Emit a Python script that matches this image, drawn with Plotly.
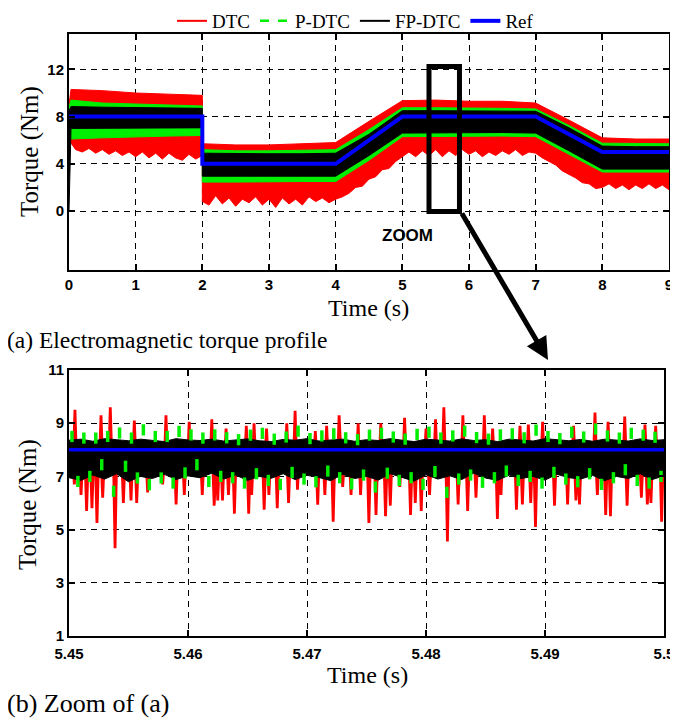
import plotly.graph_objects as go

# The page body has an 8px default margin, so the figure is sized to fill the
# remaining window and all pixel positions below are given in window pixels.
OFF = 8
W, H = 678 - OFF, 723 - OFF
RED, GREEN, BLACK, BLUE = "#ff0000", "#00ee00", "#000000", "#0000ff"


def px(x):
    return (x - OFF) / W


def py(y):
    return 1 - (y - OFF) / H


# ---------------- Panel (a): envelopes ----------------
t_knots = [0.0, 0.03, 0.5, 1.0, 1.5, 2.0, 2.0, 2.5, 3.0, 3.5, 4.0, 4.5, 5.0, 5.5, 6.0, 6.5, 7.0, 7.5, 8.0, 8.5, 9.0]
dtc_upper = [9.0, 10.3, 10.2, 10.0, 9.9, 9.8, 5.7, 5.6, 5.6, 5.7, 5.8, 7.6, 9.35, 9.4, 9.3, 9.3, 9.15, 7.7, 6.2, 6.1, 6.1]
pdtc_upper = [8.8, 9.4, 9.15, 9.05, 9.0, 8.9, 5.2, 5.1, 5.1, 5.15, 5.2, 6.9, 8.75, 8.75, 8.75, 8.7, 8.65, 7.25, 5.75, 5.7, 5.7]
fpdtc_upper = [8.5, 8.85, 8.8, 8.75, 8.75, 8.7, 4.9, 4.85, 4.85, 4.85, 4.9, 6.5, 8.5, 8.5, 8.5, 8.5, 8.45, 7.05, 5.5, 5.45, 5.45]
fpdtc_lower = [0.0, 7.0, 7.05, 7.05, 7.05, 7.05, 2.95, 2.95, 2.95, 2.95, 2.95, 4.7, 6.6, 6.6, 6.65, 6.65, 6.6, 5.1, 3.55, 3.55, 3.55]
pdtc_lower = [6.6, 6.1, 6.2, 6.3, 6.35, 6.4, 2.45, 2.45, 2.45, 2.5, 2.5, 4.3, 6.3, 6.3, 6.35, 6.35, 6.3, 4.8, 3.3, 3.3, 3.3]

dtc_lower_t = [round(i * 0.1, 1) for i in range(21)] + [round(2.0 + i * 0.1, 1) for i in range(71)]
dtc_lower = [6.0, 5.2, 5.0, 5.3, 4.9, 5.2, 4.8, 5.1, 4.7, 5.0, 4.6, 5.0, 4.5, 4.9, 4.4, 4.9, 4.5, 4.3, 4.8, 4.4, 4.7,
             0.8, 0.5, 1.3, 0.6, 1.1, 0.4, 1.0, 0.7, 1.2, 0.5, 1.0, 0.3, 1.1, 0.6, 1.0, 0.5, 1.2, 0.8, 1.1, 0.7, 1.0,
             1.2, 1.5, 2.0, 2.1, 2.7, 2.9, 3.5, 3.6, 4.2, 4.6,
             5.0, 4.6, 5.1, 4.7, 5.2, 4.6, 5.1, 4.7, 5.2, 4.8, 5.1, 4.6, 5.0, 4.7, 5.1, 4.8, 5.2, 4.7, 5.0, 4.9,
             4.5, 4.2, 3.9, 3.4, 3.1, 2.8, 2.4, 2.3, 1.9, 2.0,
             2.3, 1.9, 2.2, 1.8, 2.2, 1.9, 2.3, 1.9, 2.2, 1.8]

ref_t = [0, 2, 2, 4, 5, 7, 8, 9]
ref_v = [8, 8, 4, 4, 8, 8, 5, 5]
xticks_a = [0, 1, 2, 3, 4, 5, 6, 7, 8, 9]
yticks_a = [0, 4, 8, 12]

# ---------------- Panel (b): zoom 5.45 - 5.50 s ----------------
zoom_t0 = 5.45
spike_ms = [0.45, 0.50, 1.01, 1.48, 1.93, 2.35, 2.69, 2.83, 3.47, 3.87, 4.57, 5.21, 5.49, 5.69, 6.61, 7.87, 8.15,
            9.00, 9.69, 10.10, 11.20, 12.00, 12.20, 12.50, 12.90, 13.20, 13.40, 13.90, 14.90, 15.10, 15.35, 15.55,
            16.40, 16.60, 16.80, 17.50, 18.30, 18.45, 19.00, 19.20, 20.70, 20.90, 21.50, 21.65, 22.20, 22.70,
            23.00, 23.70, 24.30, 24.50, 25.20, 25.80, 26.20, 26.60, 27.00, 27.80, 28.20, 28.70, 29.10, 29.60,
            30.00, 30.30, 30.80, 31.50, 31.80, 32.70, 33.10, 33.50, 34.20, 34.90, 35.60, 36.00, 36.30, 37.60,
            37.90, 38.10, 38.60, 38.80, 39.20, 39.80, 40.80, 41.90, 42.40, 42.60, 42.90, 44.20, 44.40, 45.10,
            45.30, 45.50, 46.70, 46.90, 48.10, 48.40, 48.60, 48.90, 49.30, 49.80]
spike_val = [6.7, 9.5, 6.3, 5.7, 5.8, 5.25, 9.3, 6.2, 9.6, 4.3, 6.0, 6.1, 9.1, 6.0, 6.4, 6.7, 9.3,
             5.95, 6.3, 9.05, 6.3, 9.15, 5.9, 6.1, 6.1, 8.8, 6.3, 5.6, 8.9, 5.6, 6.3, 9.0,
             5.75, 8.8, 6.3, 5.8, 9.0, 6.0, 9.47, 6.5, 8.7, 5.94, 6.3, 8.9, 5.3, 9.3,
             6.6, 6.3, 9.0, 6.3, 5.25, 5.55, 9.0, 5.5, 5.9, 6.6, 9.2, 5.55, 6.0, 5.7,
             8.8, 6.3, 9.15, 9.6, 4.55, 5.95, 9.3, 5.7, 6.2, 9.3, 8.8, 5.4, 6.3, 5.75,
             8.9, 5.95, 8.95, 6.0, 5.1, 9.05, 5.9, 5.95, 8.9, 6.1, 5.95, 9.4, 6.3, 5.55,
             9.05, 5.5, 9.25, 5.9, 6.2, 8.95, 5.95, 6.0, 8.9, 5.3]
dtc_base = 7.6

pdtc_hi = [8.50, 8.44, 8.44, 8.50, 8.63, 8.44, 8.75, 8.50, 8.50, 8.69, 8.56, 8.44, 8.56,
           8.45, 8.38, 8.55, 8.62, 8.40, 8.48, 8.70, 8.42, 8.52, 8.60, 8.45, 8.38,
           8.55, 8.62, 8.48, 8.40, 8.58, 8.66, 8.44, 8.52, 8.70, 8.46, 8.40, 8.56,
           8.60, 8.45, 8.74, 8.50, 8.42, 8.66, 8.48, 8.78, 8.52, 8.44, 8.62, 8.55, 8.47]
pdtc_lo = [6.81, 7.00, 7.44, 6.44, 7.38, 6.94, 6.69, 6.94, 6.75, 7.13, 7.44, 6.81, 7.00,
           6.95, 6.75, 7.10, 6.85, 6.70, 7.15, 6.90, 6.80, 7.20, 6.95, 6.72, 7.05,
           6.60, 7.12, 6.85, 6.95, 6.70, 7.18, 6.40, 6.90, 7.05, 6.78, 6.95, 7.20,
           6.85, 7.00, 6.75, 7.15, 6.90, 6.80, 7.10, 6.70, 6.95, 7.25, 6.85, 6.75, 7.00]

fp_ms = list(range(51))
fp_up_z = [8.36, 8.40, 8.32, 8.42, 8.38, 8.34, 8.40, 8.36, 8.31, 8.42, 8.37, 8.35, 8.40, 8.33, 8.38, 8.41, 8.34,
           8.31, 8.39, 8.36, 8.42, 8.33, 8.37, 8.40, 8.32, 8.38, 8.35, 8.42, 8.36, 8.31, 8.40, 8.37, 8.33, 8.41,
           8.35, 8.38, 8.31, 8.40, 8.36, 8.33, 8.42, 8.37, 8.34, 8.39, 8.32, 8.40, 8.36, 8.33, 8.41, 8.35, 8.38]
fp_lo_z = [6.95, 6.85, 7.05, 6.90, 7.10, 6.80, 7.00, 6.92, 7.08, 6.88, 7.02, 6.95, 7.12, 6.90, 7.05, 6.85, 7.00,
           6.93, 7.10, 6.88, 7.04, 6.96, 6.84, 7.08, 6.92, 7.00, 6.86, 7.10, 6.95, 6.82, 7.06, 6.90, 7.02, 6.88,
           7.12, 6.94, 6.85, 7.05, 6.92, 7.00, 6.86, 7.08, 6.95, 6.90, 7.04, 6.84, 7.00, 6.92, 7.10, 6.88, 7.02]
ref_z = 8.0
xticks_b = [5.45, 5.46, 5.47, 5.48, 5.49, 5.50]
xticklabels_b = ["5.45", "5.46", "5.47", "5.48", "5.49", "5.5"]
yticks_b = [1, 3, 5, 7, 9, 11]


def band(tu, vu, tl, vl):
    return list(tu) + list(tl)[::-1], list(vu) + list(vl)[::-1]


fig = go.Figure()

# legend-only entries
for name, col, dash, w in [("DTC", RED, "solid", 2), ("P-DTC", GREEN, "dash", 2.5),
                           ("FP-DTC", BLACK, "solid", 2), ("Ref", BLUE, "solid", 4)]:
    fig.add_trace(go.Scatter(x=[None], y=[None], mode="lines", name=name,
                             line=dict(color=col, dash=dash, width=w)))

# ---- panel (a)
for tu, vu, tl, vl, col in [(t_knots, dtc_upper, dtc_lower_t, dtc_lower, RED),
                            (t_knots, pdtc_upper, t_knots, pdtc_lower, GREEN),
                            (t_knots, fpdtc_upper, t_knots, fpdtc_lower, BLACK)]:
    bx, by = band(tu, vu, tl, vl)
    fig.add_trace(go.Scatter(x=bx, y=by, mode="lines", fill="toself", fillcolor=col,
                             line=dict(color=col, width=1), showlegend=False,
                             xaxis="x", yaxis="y"))
fig.add_trace(go.Scatter(x=ref_t, y=ref_v, mode="lines", line=dict(color=BLUE, width=4),
                         showlegend=False, xaxis="x", yaxis="y"))

# ---- panel (b)
hw = 0.13
rx, ry = [0.0], [dtc_base]
for ms, v in zip(spike_ms, spike_val):
    rx += [ms - hw, ms, ms + hw]
    ry += [dtc_base, v, dtc_base]
rx.append(50.0)
ry.append(dtc_base)
fig.add_trace(go.Scatter(x=[zoom_t0 + m / 1000 for m in rx], y=ry, mode="lines",
                         line=dict(color=RED, width=2.8), showlegend=False, xaxis="x2", yaxis="y2"))

bx, by = band(fp_ms, fp_up_z, fp_ms, fp_lo_z)
fig.add_trace(go.Scatter(x=[zoom_t0 + m / 1000 for m in bx], y=by, mode="lines", fill="toself",
                         fillcolor=BLACK, line=dict(color=BLACK, width=1), showlegend=False,
                         xaxis="x2", yaxis="y2"))

gx, gy = [], []
for k, (hi, lo) in enumerate(zip(pdtc_hi, pdtc_lo)):
    gx += [zoom_t0 + (k + 0.25) / 1000, zoom_t0 + (k + 0.75) / 1000]
    gy += [hi, lo]
fig.add_trace(go.Scatter(x=gx, y=gy, mode="markers",
                         marker=dict(symbol="line-ns", size=8, color=GREEN,
                                     line=dict(color=GREEN, width=3.5)),
                         showlegend=False, xaxis="x2", yaxis="y2"))

fig.add_trace(go.Scatter(x=[zoom_t0, zoom_t0 + 0.05], y=[ref_z, ref_z], mode="lines",
                         line=dict(color=BLUE, width=3.5), showlegend=False, xaxis="x2", yaxis="y2"))

axis_style = dict(showline=True, linecolor=BLACK, linewidth=2, mirror="ticks",
                  ticks="inside", ticklen=6, tickwidth=1.5, tickcolor=BLACK,
                  showgrid=True, gridcolor=BLACK, gridwidth=1, griddash="6px,5px",
                  zeroline=False, automargin=False,
                  tickfont=dict(family="Liberation Sans", size=15, color=BLACK, weight="bold"))

fig.update_layout(
    width=W, height=H, margin=dict(l=0, r=0, t=0, b=0, autoexpand=False),
    paper_bgcolor="white", plot_bgcolor="white",
    xaxis=dict(domain=[px(69), px(669)], range=[0, 9], tickvals=xticks_a, anchor="y", **axis_style),
    yaxis=dict(domain=[py(270), py(34)], range=[-5, 15], tickvals=yticks_a, anchor="x", **axis_style),
    xaxis2=dict(domain=[px(69), px(664)], range=[5.45, 5.5], tickvals=xticks_b, ticktext=xticklabels_b,
                anchor="y2", ticklabelstandoff=3, **axis_style),
    yaxis2=dict(domain=[py(636), py(370)], range=[1, 11], tickvals=yticks_b, anchor="x2", **axis_style),
    legend=dict(orientation="h", x=px(172), y=py(2), xanchor="left", yanchor="top",
                bgcolor="rgba(0,0,0,0)", font=dict(family="Liberation Serif", size=19, color=BLACK),
                itemwidth=30, tracegroupgap=0),
    showlegend=True,
)

fig.add_shape(type="rect", xref="x", yref="y", x0=5.40, x1=5.857, y0=-0.05, y1=12.25,
              line=dict(color=BLACK, width=5), layer="above")

serif = dict(family="Liberation Serif", color=BLACK)
ann = [
    dict(text="ZOOM", x=px(408), y=py(235), font=dict(family="Liberation Sans", size=17, color=BLACK, weight="bold")),
    dict(text="Time (s)", x=px(369), y=py(308), font=dict(size=24, **serif)),
    dict(text="Time (s)", x=px(367), y=py(675), font=dict(size=24, **serif)),
    dict(text="Torque (Nm)", x=px(30), y=py(152), textangle=-90, font=dict(size=25, **serif)),
    dict(text="Torque (Nm)", x=px(28), y=py(505), textangle=-90, font=dict(size=25, **serif)),
]
for a in ann:
    fig.add_annotation(xref="paper", yref="paper", showarrow=False, xanchor="center", yanchor="middle", **a)
fig.add_annotation(text="(a) Electromagnetic torque profile", xref="paper", yref="paper",
                   x=px(5), y=py(340), xanchor="left", yanchor="middle", showarrow=False,
                   font=dict(size=23.5, **serif))
fig.add_annotation(text="(b) Zoom of (a)", xref="paper", yref="paper",
                   x=px(5), y=py(703), xanchor="left", yanchor="middle", showarrow=False,
                   font=dict(size=26, **serif))
fig.add_annotation(text="", xref="paper", yref="paper", x=px(548), y=py(360),
                   ax=-87, ay=-148, axref="pixel", ayref="pixel", showarrow=True,
                   arrowhead=2, arrowsize=0.9, arrowwidth=5, arrowcolor=BLACK)

fig.write_html("out.html")
